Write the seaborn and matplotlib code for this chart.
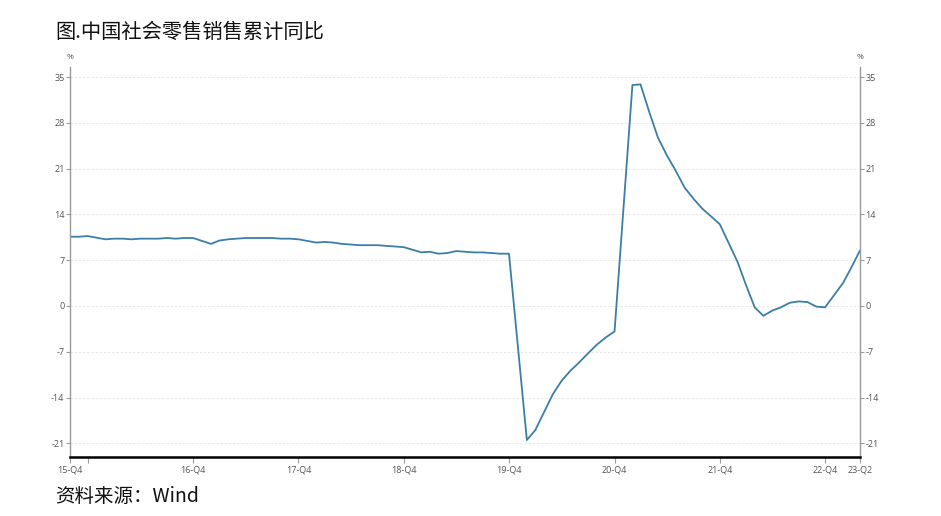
import pandas as pd
import matplotlib
matplotlib.use("Agg")
import matplotlib.pyplot as plt
import matplotlib.dates as mdates
import seaborn as sns

# =============================
# Données :社会消费品零售总额 累计同比 (%)
# =============================
months = (
    ["2015-10", "2015-11", "2015-12"]
    + [f"{y}-{m:02d}" for y in range(2016, 2023) for m in range(2, 13)]
    + ["2023-02", "2023-03", "2023-04"]
)
v2015 = [10.6, 10.6, 10.7]
v2016 = [10.2, 10.3, 10.3, 10.2, 10.3, 10.3, 10.3, 10.4, 10.3, 10.4, 10.4]
v2017 = [9.5, 10.0, 10.2, 10.3, 10.4, 10.4, 10.4, 10.4, 10.3, 10.3, 10.2]
v2018 = [9.7, 9.8, 9.7, 9.5, 9.4, 9.3, 9.3, 9.3, 9.2, 9.1, 9.0]
v2019 = [8.2, 8.3, 8.0, 8.1, 8.4, 8.3, 8.2, 8.2, 8.1, 8.0, 8.0]
v2020 = [-20.5, -19.0, -16.2, -13.5, -11.4, -9.9, -8.6, -7.2, -5.9, -4.8, -3.9]
v2021 = [33.8, 33.9, 29.6, 25.7, 23.0, 20.7, 18.1, 16.4, 14.9, 13.7, 12.5]
v2022 = [6.7, 3.3, -0.2, -1.5, -0.7, -0.2, 0.5, 0.7, 0.6, -0.1, -0.2]
v2023 = [3.5, 5.8, 8.5]
values = v2015 + v2016 + v2017 + v2018 + v2019 + v2020 + v2021 + v2022 + v2023

tick_dates = ["2015-10", "2016-12", "2017-12", "2018-12", "2019-12",
              "2020-12", "2021-12", "2022-12", "2023-04"]
tick_labels = ["15-Q4", "16-Q4", "17-Q4", "18-Q4", "19-Q4",
               "20-Q4", "21-Q4", "22-Q4", "23-Q2"]
y_ticks = [-21, -14, -7, 0, 7, 14, 21, 28, 35]

df = pd.DataFrame({"date": pd.to_datetime(months), "value": values})

# =============================
# Figure
# =============================
sns.set_style("white")
plt.rcParams['font.family'] = ['Open Sans', 'DejaVu Sans']

fig = plt.figure(figsize=(9.41, 5.16), dpi=100)
ax = fig.add_axes([0.0744, 0.1143, 0.8395, 0.7564])

sns.lineplot(data=df, x="date", y="value", color="#3b7fa6", linewidth=1.3, ax=ax)

# Axes
ax.set_xlim(df["date"].iloc[0], df["date"].iloc[-1])
ax.set_ylim(-23.1, 36.6)
ax.set_yticks(y_ticks)
ax.set_yticklabels([str(t) for t in y_ticks])
ax.set_xticks(pd.to_datetime(tick_dates))
ax.set_xticklabels(tick_labels)
ax.set_xticks([mdates.date2num(pd.Timestamp("2015-12-01"))], minor=True)
ax.set_xlabel("")
ax.set_ylabel("")

# Grille pointillée
ax.grid(axis="y", linestyle=(0, (3, 2)), color="#e6e6e6", linewidth=0.6)
ax.grid(axis="x", visible=False)

# Bordures
ax.spines["top"].set_visible(False)
for side in ["left", "right"]:
    ax.spines[side].set_color("#9a9a9a")
    ax.spines[side].set_linewidth(1.0)
ax.spines["bottom"].set_color("#000000")
ax.spines["bottom"].set_linewidth(1.8)

ax.tick_params(axis="y", which="both", left=True, right=True,
               labelleft=True, labelright=True, length=3, width=0.8,
               color="#9a9a9a", labelsize=6.5, labelcolor="#555555", pad=1)
ax.tick_params(axis="x", which="both", bottom=True, length=4, width=0.8,
               color="#9a9a9a", labelsize=6.5, labelcolor="#555555", pad=2)

# Unités
ax.text(0, 1.015, "%", transform=ax.transAxes, ha="center", va="bottom",
        fontsize=6, color="#555555")
ax.text(1, 1.015, "%", transform=ax.transAxes, ha="center", va="bottom",
        fontsize=6, color="#555555")

# Titre et source
cjk = ['Noto Sans CJK SC', 'DejaVu Sans']
fig.text(55 / 941, 1 - 32 / 516, "图.中国社会零售销售累计同比", family=cjk,
         fontsize=14.6, ha="left", va="center", color="#111111")
fig.text(55 / 941, 1 - 497 / 516, "资料来源：Wind", family=cjk,
         fontsize=14, ha="left", va="center", color="#111111")

fig.savefig("out.png", dpi=100)
